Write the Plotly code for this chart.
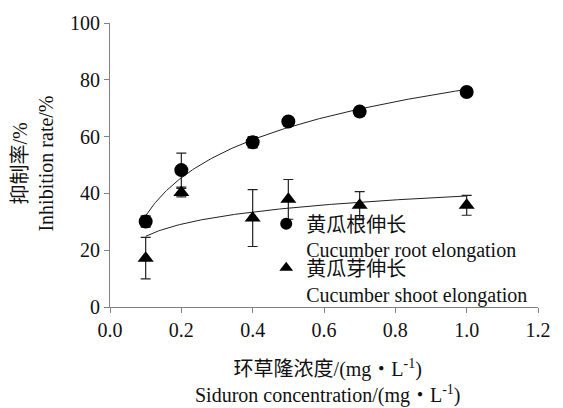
import numpy as np
import plotly.graph_objects as go

# Siduron concentration (mg/L)
conc = [0.1, 0.2, 0.4, 0.5, 0.7, 1.0]

# Inhibition rate of cucumber root elongation (%) and its error
root_rate = [30.1, 48.2, 58.0, 65.3, 68.8, 75.7]
root_err = [2.0, 6.0, 2.0, 1.0, 1.5, 1.0]

# Inhibition rate of cucumber shoot elongation (%) and its error
shoot_rate = [17.2, 40.3, 31.3, 37.9, 35.8, 35.8]
shoot_err = [7.3, 1.5, 10.0, 7.0, 4.8, 3.5]

root_name = "黄瓜根伸长<br>Cucumber root elongation"
shoot_name = "黄瓜芽伸长<br>Cucumber shoot elongation"

x_ticks = [0.0, 0.2, 0.4, 0.6, 0.8, 1.0, 1.2]
x_tick_text = ["0.0", "0.2", "0.4", "0.6", "0.8", "1.0", "1.2"]
y_ticks = [0, 20, 40, 60, 80, 100]

FONT = "Liberation Serif, Times New Roman, Times, serif, Noto Sans CJK SC"
TXT = dict(family=FONT, size=20, color="#111111")


def log_trend(x, y):
    """Least-squares fit y = a + b*ln(x), sampled between the first and last x."""
    b, a = np.polyfit(np.log(x), y, 1)
    xs = np.linspace(min(x), max(x), 200)
    return xs, a + b * np.log(xs)


fig = go.Figure()

for ys in (root_rate, shoot_rate):
    tx, ty = log_trend(conc, ys)
    fig.add_trace(go.Scatter(
        x=tx, y=ty, mode="lines", showlegend=False, hoverinfo="skip",
        line=dict(color="#222222", width=1),
    ))

err_style = dict(type="data", visible=True, color="#222222", thickness=1.2, width=5)

fig.add_trace(go.Scatter(
    x=conc, y=root_rate, mode="markers", name=root_name, legend="legend",
    marker=dict(symbol="circle", size=14, color="black"),
    error_y=dict(array=root_err, **err_style),
))
fig.add_trace(go.Scatter(
    x=conc, y=shoot_rate, mode="markers", name=shoot_name, legend="legend2",
    marker=dict(symbol="triangle-up", size=14, color="black"),
    error_y=dict(array=shoot_err, **err_style),
))

axis_common = dict(
    showline=True, linecolor="#808080", linewidth=1,
    ticks="outside", ticklen=5, tickcolor="#808080", tickwidth=1,
    showgrid=False, zeroline=False,
    tickfont=TXT,
)

fig.update_xaxes(range=[0, 1.2], tickvals=x_ticks, ticktext=x_tick_text, **axis_common)
fig.update_yaxes(range=[0, 100], tickvals=y_ticks, **axis_common)

legend_common = dict(
    xanchor="left", yanchor="top", bgcolor="rgba(0,0,0,0)", valign="top",
    font=TXT, itemsizing="constant",
)

fig.update_layout(
    width=563, height=408,
    margin=dict(l=110, r=16, t=18, b=101),
    paper_bgcolor="white", plot_bgcolor="white",
    font=TXT,
    legend=dict(x=0.365, y=0.362, **legend_common),
    legend2=dict(x=0.365, y=0.207, **legend_common),
    annotations=[
        dict(
            text="环草隆浓度/(mg・L<sup>-1</sup>)<br>Siduron concentration/(mg・L<sup>-1</sup>)",
            xref="paper", yref="paper", x=0.51, y=-0.165, xanchor="center", yanchor="top",
            showarrow=False, font=TXT,
        ),
        dict(
            text="抑制率/%<br>Inhibition rate/%",
            xref="paper", yref="paper", x=-0.18, y=0.505, xanchor="center", yanchor="middle",
            textangle=-90, showarrow=False, font=TXT,
        ),
    ],
)

fig.write_html("out.html")
